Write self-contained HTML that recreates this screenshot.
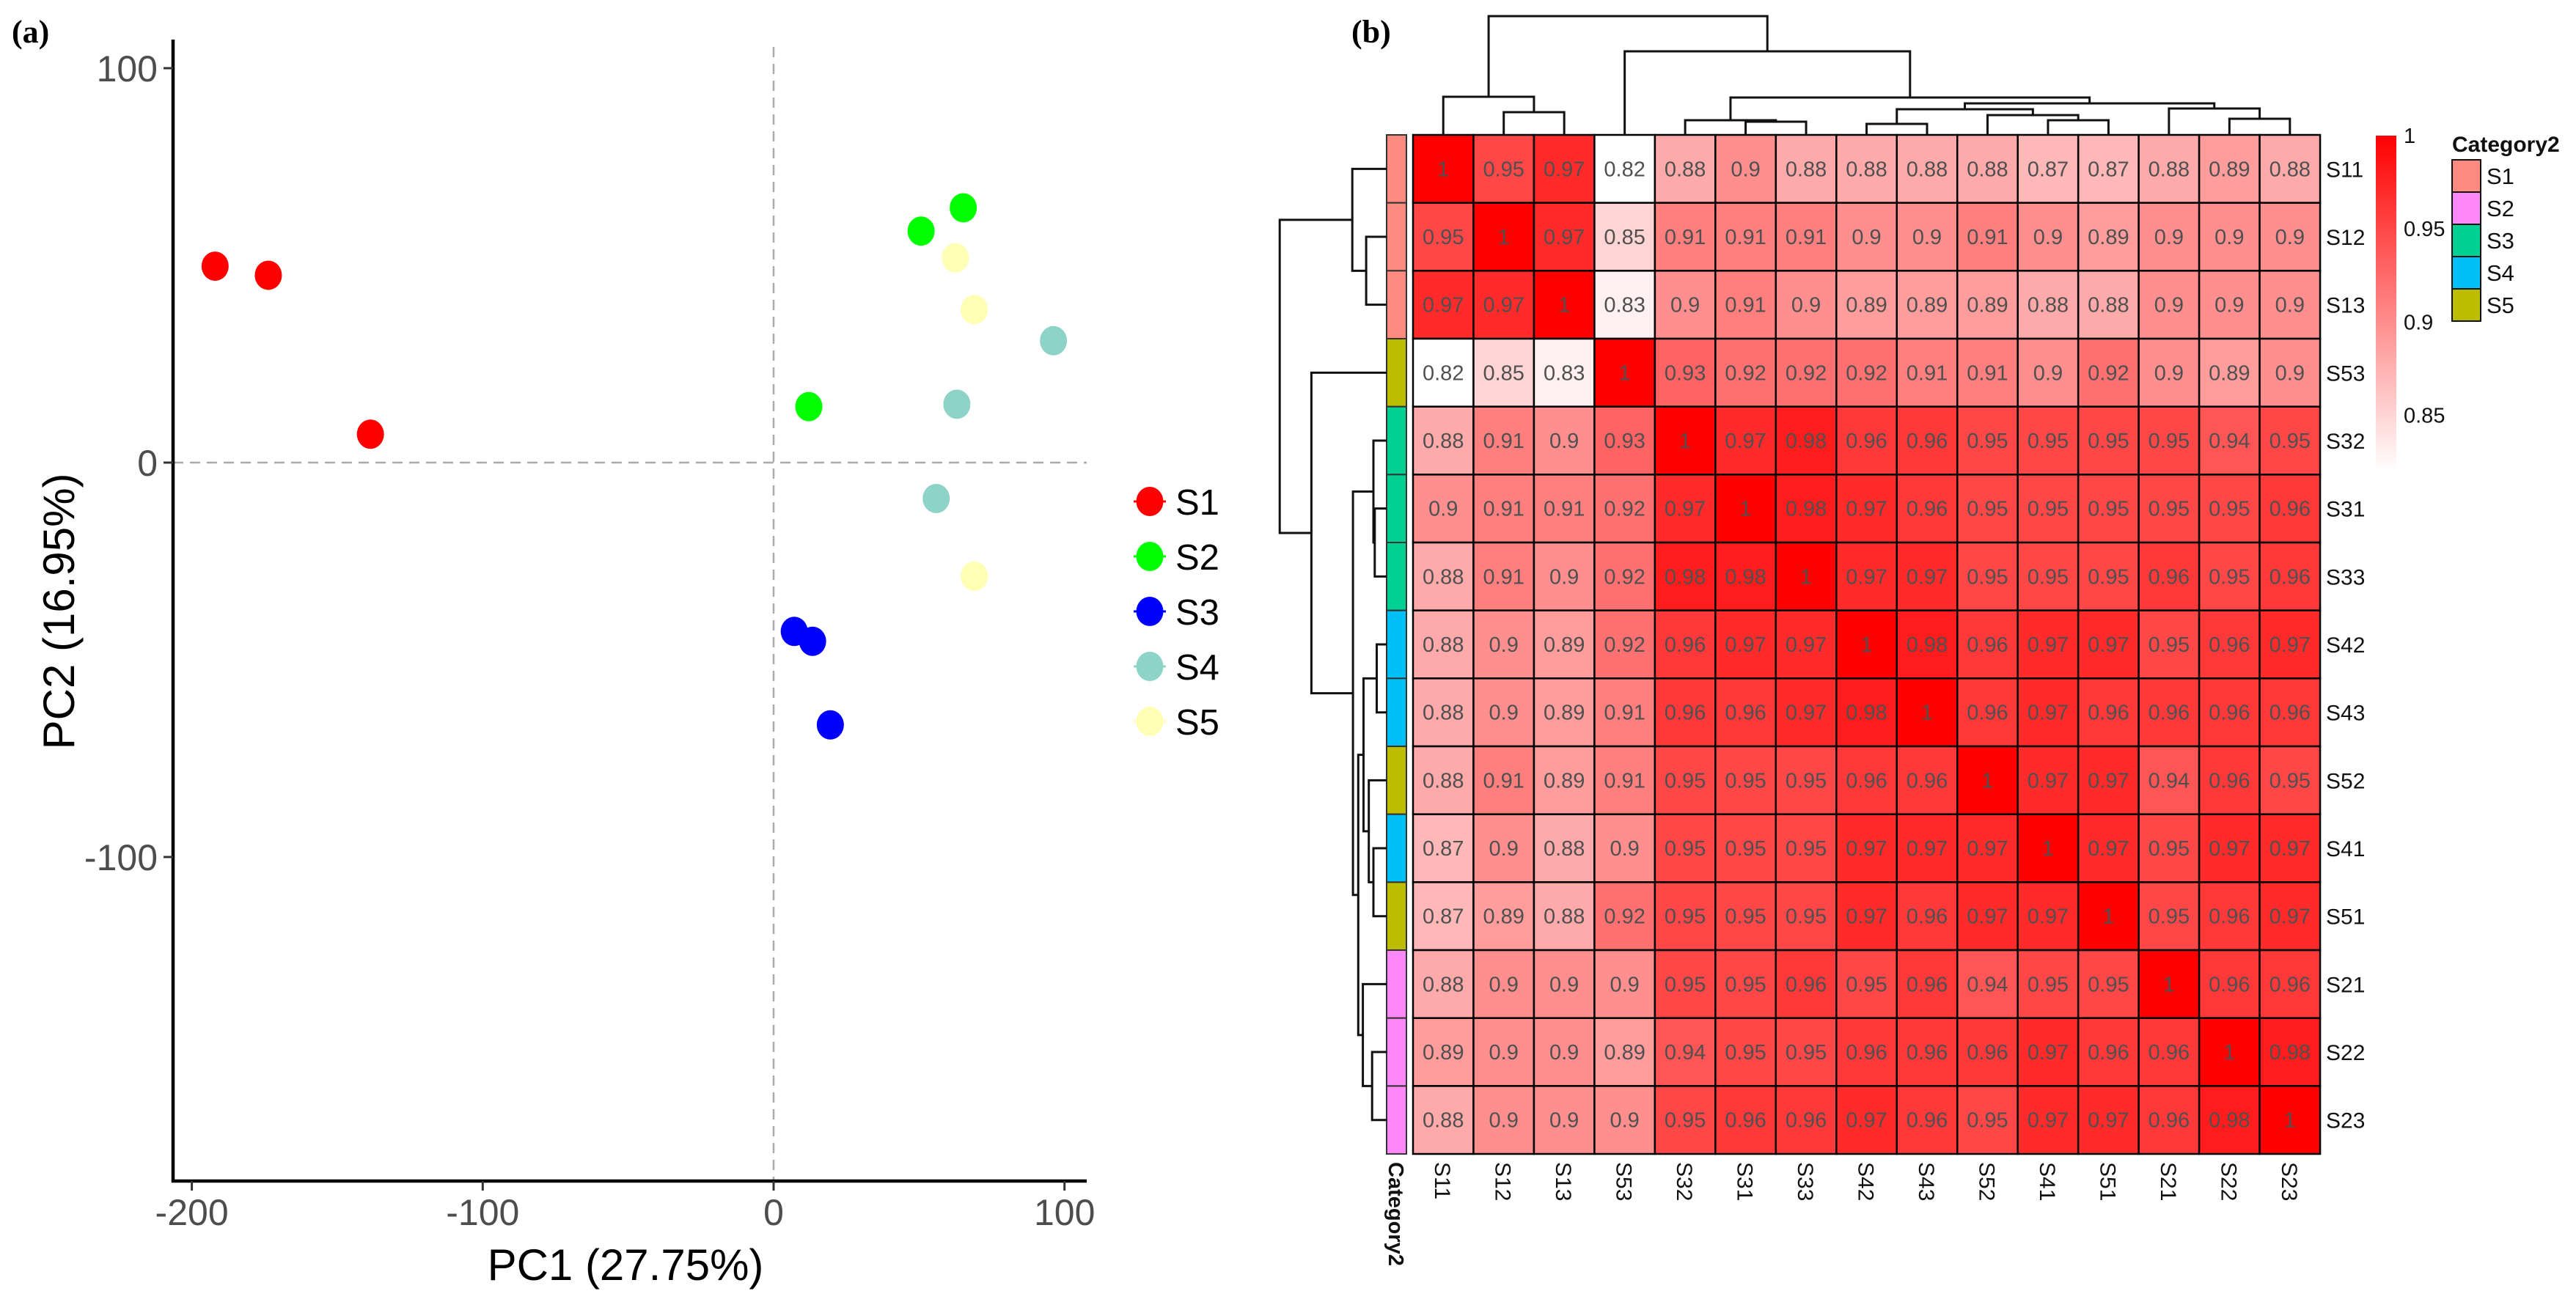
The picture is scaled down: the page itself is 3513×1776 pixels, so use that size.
<!DOCTYPE html>
<html><head><meta charset="utf-8">
<style>
html,body{margin:0;padding:0;background:#fff;}
svg{display:block;font-family:"Liberation Sans",Arial,sans-serif;}
</style></head>
<body>
<svg id="fig" width="3513" height="1776" viewBox="0 0 3513 1776" xmlns="http://www.w3.org/2000/svg">
<rect width="3513" height="1776" fill="#fff"/>
<g id="pca"></g>
<g id="hm"></g>
</svg>
<script>
// ---------- PCA data ----------
const pcaGroups = ["S1","S2","S3","S4","S5"];
const pcaColors = ["#ff0000","#00ff00","#0000ff","#8dd3c7","#ffffb3"];
const pc1S1 = [-192,-173.7,-138.6];
const pc2S1 = [49.8,47.5,7.2];
const pc1S2 = [50.7,65.2,12.1];
const pc2S2 = [58.7,64.6,14.2];
const pc1S3 = [7.1,13.4,19.5];
const pc2S3 = [-42.8,-45.3,-66.5];
const pc1S4 = [96.2,63,55.9];
const pc2S4 = [30.9,14.8,-9.1];
const pc1S5 = [62.5,69,69];
const pc2S5 = [51.9,38.8,-28.8];
const xTicks = [-200,-100,0,100];
const yTicks = [100,0,-100];

// ---------- Heatmap data ----------
const labels = ["S11","S12","S13","S53","S32","S31","S33","S42","S43","S52","S41","S51","S21","S22","S23"];
const category = ["S1","S1","S1","S5","S3","S3","S3","S4","S4","S5","S4","S5","S2","S2","S2"];
const catNames = ["S1","S2","S3","S4","S5"];
const catColors = ["#fe8a80","#ff88f8","#00d092","#00c0f8","#bcbc00"];
const corr = [
[1,.95,.97,.82,.88,.9,.88,.88,.88,.88,.87,.87,.88,.89,.88],
[.95,1,.97,.85,.91,.91,.91,.9,.9,.91,.9,.89,.9,.9,.9],
[.97,.97,1,.83,.9,.91,.9,.89,.89,.89,.88,.88,.9,.9,.9],
[.82,.85,.83,1,.93,.92,.92,.92,.91,.91,.9,.92,.9,.89,.9],
[.88,.91,.9,.93,1,.97,.98,.96,.96,.95,.95,.95,.95,.94,.95],
[.9,.91,.91,.92,.97,1,.98,.97,.96,.95,.95,.95,.95,.95,.96],
[.88,.91,.9,.92,.98,.98,1,.97,.97,.95,.95,.95,.96,.95,.96],
[.88,.9,.89,.92,.96,.97,.97,1,.98,.96,.97,.97,.95,.96,.97],
[.88,.9,.89,.91,.96,.96,.97,.98,1,.96,.97,.96,.96,.96,.96],
[.88,.91,.89,.91,.95,.95,.95,.96,.96,1,.97,.97,.94,.96,.95],
[.87,.9,.88,.9,.95,.95,.95,.97,.97,.97,1,.97,.95,.97,.97],
[.87,.89,.88,.92,.95,.95,.95,.97,.96,.97,.97,1,.95,.96,.97],
[.88,.9,.9,.9,.95,.95,.96,.95,.96,.94,.95,.95,1,.96,.96],
[.89,.9,.9,.89,.94,.95,.95,.96,.96,.96,.97,.96,.96,1,.98],
[.88,.9,.9,.9,.95,.96,.96,.97,.96,.95,.97,.97,.96,.98,1]];
const colorTicks = [1,0.95,0.9,0.85];
// dendrogram merges: [left, right, height]; negative = leaf index (-(i+1)), positive = merge index (1-based)
const merges = [
 [-2,-3,31],[-1,1,52],[-6,-7,18],[-5,3,20],[-8,-9,15],[-11,-12,20],[-10,6,27],
 [5,7,35],[-14,-15,22],[-13,9,36],[8,10,43],[4,11,51],[-4,12,114],[2,13,162]];

const NS="http://www.w3.org/2000/svg";
function mk(parent, tag, attrs, text){
  const e=document.createElementNS(NS,tag);
  for(const k in attrs) e.setAttribute(k,attrs[k]);
  if(text!==undefined) e.textContent=text;
  parent.appendChild(e); return e;
}

// ================= PCA =================
const pca=document.getElementById('pca');
const X0=236, XR=1482, YT=54, YB=1611;
function sx(v){return 1055 + v*3.967;}
function sy(v){return 631 - v*5.38;}

let t=mk(pca,'text',{x:16,y:58,'font-family':'"Liberation Serif",serif','font-weight':'bold','font-size':44,fill:'#000'},'(a)');



let l=mk(pca,'line',{x1:sx(0),y1:YT+10,x2:sx(0),y2:YB,stroke:'#aaa','stroke-width':2.5,'stroke-dasharray':'14,9'});


l=mk(pca,'line',{x1:X0,y1:sy(0),x2:XR,y2:sy(0),stroke:'#aaa','stroke-width':2.5,'stroke-dasharray':'14,9'});



l=mk(pca,'line',{x1:X0,y1:YT,x2:X0,y2:YB+2,stroke:'#000','stroke-width':4.5});


l=mk(pca,'line',{x1:X0-2,y1:YB,x2:XR,y2:YB,stroke:'#000','stroke-width':4.5});



xTicks.forEach(v=>{
  const tk=mk(pca,'line',{x1:sx(v),y1:YB,x2:sx(v),y2:YB+13,stroke:'#333','stroke-width':3});
  
  
  const tl=mk(pca,'text',{x:sx(v),y:1671,'text-anchor':'middle','font-size':50,fill:'#4d4d4d'},String(v));
  
  
});
yTicks.forEach(v=>{
  const tk=mk(pca,'line',{x1:X0-13,y1:sy(v),x2:X0,y2:sy(v),stroke:'#333','stroke-width':3});
  
  
  const tl=mk(pca,'text',{x:215,y:sy(v)+18,'text-anchor':'end','font-size':50,fill:'#4d4d4d'},String(v));
  
  
});
t=mk(pca,'text',{x:853,y:1746,'text-anchor':'middle','font-size':60,fill:'#000'},'PC1 (27.75%)');


t=mk(pca,'text',{x:0,y:0,'text-anchor':'middle','font-size':60,fill:'#000',transform:'translate(101,834) rotate(-90)'},'PC2 (16.95%)');



const pc1All=[pc1S1,pc1S2,pc1S3,pc1S4,pc1S5];
const pc2All=[pc2S1,pc2S2,pc2S3,pc2S4,pc2S5];
pcaGroups.forEach((g,gi)=>{
  pc1All[gi].forEach((v,i)=>{
    const c=mk(pca,'ellipse',{cx:sx(v),cy:sy(pc2All[gi][i]),rx:18.5,ry:20,fill:pcaColors[gi]});
    
    
  });
  const ly=684+gi*75;
  const lg=mk(pca,'g',{});
  
  
  mk(lg,'line',{x1:1546,y1:ly,x2:1590,y2:ly,stroke:pcaColors[gi],'stroke-width':3});
  mk(lg,'ellipse',{cx:1568,cy:ly,rx:18.5,ry:20,fill:pcaColors[gi]});
  mk(lg,'text',{x:1603,y:ly+18,'font-size':49,fill:'#000'},g);
});

// ================= HEATMAP =================
const hm=document.getElementById('hm');
const HX=1927, HY=184, CW=82.47, CH=92.67, N=labels.length;
function cellColor(v){
  let f=(v-0.82)/0.18; f=Math.max(0,Math.min(1,f));
  const gb=Math.round(255*(1-f));
  return 'rgb(255,'+gb+','+gb+')';
}
t=mk(hm,'text',{x:1843,y:58,'font-family':'"Liberation Serif",serif','font-weight':'bold','font-size':44,fill:'#000'},'(b)');



for(let r=0;r<N;r++){
  for(let c=0;c<N;c++){
    const v=corr[r][c];
    const rc=mk(hm,'rect',{x:HX+c*CW,y:HY+r*CH,width:CW,height:CH,fill:cellColor(v),stroke:'#000','stroke-width':2.5});
    
    
    const tx=mk(hm,'text',{x:HX+(c+0.5)*CW,y:HY+(r+0.5)*CH+10,'text-anchor':'middle','font-size':29,fill:'#505050'},String(v));
    
    
  }
  const ab=mk(hm,'rect',{x:1891,y:HY+r*CH,width:27,height:CH,fill:catColors[catNames.indexOf(category[r])],stroke:'#333','stroke-width':2});
  
  
  const rl=mk(hm,'text',{x:3172,y:HY+(r+0.5)*CH+11,'font-size':30,fill:'#111'},labels[r]);
  
  
  const cx=HX+(r+0.5)*CW;
  const cl=mk(hm,'text',{x:0,y:0,'font-size':30,fill:'#111',transform:'translate('+(cx-11)+',1585) rotate(90)'},labels[r]);
  
  
}
t=mk(hm,'text',{x:0,y:0,'font-size':29,'font-weight':'bold',fill:'#111',transform:'translate(1894,1585) rotate(90)'},'Category2');



// dendrograms
const colDend=mk(hm,'g',{fill:'none',stroke:'#111','stroke-width':3});


const rowDend=mk(hm,'g',{fill:'none',stroke:'#111','stroke-width':3});


const nodePos=[], nodeH=[];
function nodeInfo(id){
  if(id<0){return {p:-id-1+0.5,h:0};}
  return {p:nodePos[id-1],h:nodeH[id-1]};
}
merges.forEach((m)=>{
  const a=nodeInfo(m[0]), b=nodeInfo(m[1]), h=m[2];
  const ax=HX+a.p*CW, bx=HX+b.p*CW;
  const yA=HY-a.h, yB=HY-b.h, yM=HY-h;
  mk(colDend,'path',{d:'M'+ax+','+yA+'V'+yM+'H'+bx+'V'+yB});
  const ay=HY+a.p*CH, by=HY+b.p*CH;
  const xA=1891-a.h*0.9, xB=1891-b.h*0.9, xM=1891-h*0.9;
  mk(rowDend,'path',{d:'M'+xA+','+ay+'H'+xM+'V'+by+'H'+xB});
  nodePos.push((a.p+b.p)/2); nodeH.push(h);
});

// color legend
const defs=mk(hm,'defs',{});
const grad=mk(defs,'linearGradient',{id:'cg',x1:0,y1:0,x2:0,y2:1});
mk(grad,'stop',{offset:0,'stop-color':'#ff0000'});
mk(grad,'stop',{offset:1,'stop-color':'#ffffff'});
const cb=mk(hm,'rect',{x:3240,y:185,width:28,height:458,fill:'url(#cg)'});


colorTicks.forEach(v=>{
  const y=185+(1-v)/0.18*458;
  const tl=mk(hm,'text',{x:3278,y:y+10,'font-size':29,fill:'#111'},String(v));
  
  
});
t=mk(hm,'text',{x:3344,y:207,'font-size':30,'font-weight':'bold',fill:'#111'},'Category2');


catNames.forEach((n,i)=>{
  const g=mk(hm,'g',{});
  
  
  mk(g,'rect',{x:3344,y:218+i*44,width:39,height:44,fill:catColors[i],stroke:'#111','stroke-width':2});
  mk(g,'text',{x:3391,y:218+i*44+33,'font-size':31,fill:'#111'},n);
});
</script>
</body></html>
